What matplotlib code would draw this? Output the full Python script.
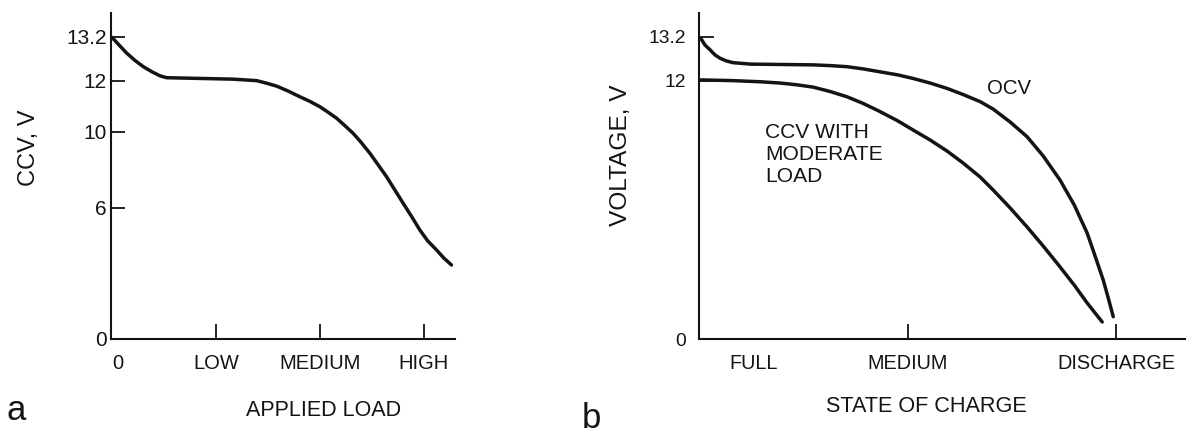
import numpy as np
import matplotlib
matplotlib.use("Agg")
import matplotlib.pyplot as plt
from matplotlib import font_manager as fm

# ---------------- data ----------------
# panel a: closed-circuit voltage vs applied load
LOAD = [0.0, 0.058, 0.141, 0.221, 0.301, 0.385, 0.462, 0.526, 0.846, 1.166,
        1.391, 1.481, 1.584, 1.692, 1.808, 1.904, 2.000, 2.077, 2.161, 2.240,
        2.320, 2.394, 2.481, 2.558, 2.641, 2.721, 2.801, 2.885, 2.962, 3.038,
        3.122, 3.192, 3.266]
CCV_A = [13.19, 13.01, 12.76, 12.56, 12.39, 12.25, 12.14, 12.09, 12.07, 12.05,
         12.01, 11.92, 11.80, 11.61, 11.38, 11.20, 10.99, 10.78, 10.54, 10.25,
         9.93, 9.47, 8.88, 8.29, 7.65, 6.95, 6.25, 5.59, 4.99, 4.49,
         4.08, 3.71, 3.39]
LOAD_TICKS = [0.055, 1, 2, 3]
LOAD_LABELS = ["0", "LOW", "MEDIUM", "HIGH"]

# panel b: voltage vs state of charge
SOC_OCV = [0.010, 0.029, 0.053, 0.077, 0.101, 0.130, 0.163, 0.206, 0.249, 0.403,
           0.547, 0.628, 0.710, 0.787, 0.868, 0.950, 1.026, 1.108, 1.189, 1.266,
           1.348, 1.410, 1.492, 1.573, 1.650, 1.731, 1.799, 1.861, 1.899, 1.938,
           1.962, 1.986]
OCV = [13.15, 12.98, 12.85, 12.71, 12.62, 12.55, 12.50, 12.48, 12.46, 12.45,
       12.44, 12.42, 12.39, 12.33, 12.25, 12.17, 12.07, 11.92, 11.71, 11.47,
       11.19, 10.90, 10.39, 9.75, 8.74, 7.47, 6.16, 4.85, 3.80, 2.70,
       1.88, 1.02]
SOC_CCV = [0.010, 0.163, 0.293, 0.389, 0.470, 0.547, 0.628, 0.710, 0.787, 0.868,
           0.950, 1.026, 1.108, 1.189, 1.266, 1.348, 1.410, 1.492, 1.573, 1.650,
           1.731, 1.799, 1.861, 1.899, 1.933]
CCV_B = [12.03, 12.01, 11.97, 11.92, 11.85, 11.76, 11.59, 11.38, 11.12, 10.80,
         10.45, 10.08, 9.58, 9.00, 8.37, 7.63, 6.95, 6.00, 5.13, 4.26,
         3.30, 2.47, 1.65, 1.19, 0.78]
SOC_TICKS = [0.26, 1, 2]
SOC_LABELS = ["FULL", "MEDIUM", "DISCHARGE"]

V_TICKS_A = [0, 6, 10, 12, 13.2]
V_LABELS_A = ["0", "6", "10", "12", "13.2"]
V_TICKS_B = [0, 12, 13.2]
V_LABELS_B = ["0", "12", "13.2"]

# ---------------- non-uniform voltage scale of the original drawing ----------------
_VK = np.array([0.0, 6.0, 10.0, 12.0, 13.2])
_HK = np.array([0.0, 131.0, 207.0, 258.0, 302.0])
_s_lo = (_HK[1] - _HK[0]) / (_VK[1] - _VK[0])
_s_hi = (_HK[-1] - _HK[-2]) / (_VK[-1] - _VK[-2])


def _fwd(v):
    v = np.asarray(v, dtype=float)
    out = np.interp(v, _VK, _HK)
    out = np.where(v > _VK[-1], _HK[-1] + (v - _VK[-1]) * _s_hi, out)
    out = np.where(v < _VK[0], _HK[0] + (v - _VK[0]) * _s_lo, out)
    return out


def _inv(h):
    h = np.asarray(h, dtype=float)
    out = np.interp(h, _HK, _VK)
    out = np.where(h > _HK[-1], _VK[-1] + (h - _HK[-1]) / _s_hi, out)
    out = np.where(h < _HK[0], _VK[0] + (h - _HK[0]) / _s_lo, out)
    return out


# ---------------- fonts ----------------
names = {f.name for f in fm.fontManager.ttflist}
REG = "Liberation Sans" if "Liberation Sans" in names else "DejaVu Sans"
if "Liberation Sans Narrow" in names:
    NAR, NK = "Liberation Sans Narrow", 1.0
else:
    NAR, NK = REG, 0.84

INK = "#141414"
W, H = 1187, 433
fig = plt.figure(figsize=(W / 100, H / 100), dpi=100)
fig.patch.set_facecolor("white")


def px_axes(left, top, right, bottom):
    return fig.add_axes([left / W, 1 - bottom / H, (right - left) / W, (bottom - top) / H])


def style(ax):
    for s in ("top", "right"):
        ax.spines[s].set_visible(False)
    for s in ("left", "bottom"):
        ax.spines[s].set_linewidth(1.5)
        ax.spines[s].set_color(INK)
    ax.set_facecolor("none")
    ax.set_yscale("function", functions=(_fwd, _inv))
    ax.set_ylim(0, float(_inv(326.0)))


LINE = dict(color=INK, lw=2.5, solid_capstyle="round", solid_joinstyle="round")

# ---------------- panel a ----------------
axa = px_axes(111, 13, 455, 339)
style(axa)
axa.plot(LOAD, CCV_A, **LINE)
axa.set_xlim(-0.01, 3.30)
axa.set_xticks(LOAD_TICKS)
axa.set_xticklabels(LOAD_LABELS, fontfamily=REG, fontsize=14.5, color=INK)
axa.set_yticks(V_TICKS_A)
axa.set_yticklabels(V_LABELS_A, fontfamily=REG, fontsize=15, color=INK)
axa.tick_params(axis="x", direction="in", length=11, width=1.3, pad=11, colors=INK)
axa.tick_params(axis="y", direction="in", length=10, width=1.3, pad=3, colors=INK)
axa.xaxis.get_major_ticks()[0].tick1line.set_visible(False)
axa.yaxis.get_major_ticks()[0].tick1line.set_visible(False)
axa.set_xlabel("APPLIED LOAD", fontfamily=REG, fontsize=15.5, color=INK, va="center")
axa.xaxis.set_label_coords((324 - 111) / 344, (339 - 410) / 326)
axa.set_ylabel("CCV, V", fontfamily=REG, fontsize=17, color=INK, va="center")
axa.yaxis.set_label_coords((29 - 111) / 344, (339 - 148) / 326)

# ---------------- panel b ----------------
axb = px_axes(699, 13, 1185, 339)
style(axb)
axb.plot(SOC_OCV, OCV, **LINE)
axb.plot(SOC_CCV, CCV_B, **LINE)
axb.set_xlim(0, 2.33)
axb.set_xticks(SOC_TICKS)
axb.set_xticklabels(SOC_LABELS, fontfamily=NAR, fontsize=17 * NK, color=INK)
axb.set_yticks(V_TICKS_B)
axb.set_yticklabels(V_LABELS_B, fontfamily=NAR, fontsize=16.5 * NK, color=INK)
axb.tick_params(axis="x", direction="in", length=11, width=1.3, pad=11, colors=INK)
axb.tick_params(axis="y", direction="in", length=11, width=1.3, pad=9, colors=INK)
axb.xaxis.get_major_ticks()[0].tick1line.set_visible(False)
axb.yaxis.get_major_ticks()[0].tick1line.set_visible(False)
axb.set_xlabel("STATE OF CHARGE", fontfamily=NAR, fontsize=18.5 * NK, color=INK, va="center")
axb.xaxis.set_label_coords((926 - 699) / 486, (339 - 407) / 326)
axb.set_ylabel("VOLTAGE, V", fontfamily=NAR, fontsize=21 * NK, color=INK, va="center")
axb.yaxis.set_label_coords((621 - 699) / 486, (339 - 155) / 326)

axb.text((765 - 699) / 486, (339 - 155) / 326, "CCV WITH\nMODERATE\nLOAD",
         fontfamily=NAR, fontsize=18 * NK, color=INK, ha="left", va="center",
         linespacing=1.2, transform=axb.transAxes)
axb.text((987 - 699) / 486, (339 - 89) / 326, "OCV", fontfamily=NAR,
         fontsize=17.5 * NK, color=INK, ha="left", va="center",
         transform=axb.transAxes)

# panel letters
fig.text(7 / W, 1 - 420 / H, "a", fontfamily=REG, fontsize=25, color=INK,
         ha="left", va="baseline")
fig.text(582 / W, 1 - 428 / H, "b", fontfamily=REG, fontsize=25, color=INK,
         ha="left", va="baseline")

fig.savefig("out.png", dpi=100, facecolor="white")
